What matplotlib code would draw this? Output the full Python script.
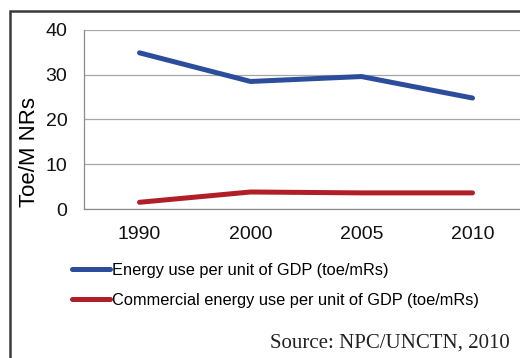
import matplotlib.pyplot as plt
from matplotlib.patches import Rectangle

years = ["1990", "2000", "2005", "2010"]
energy_use = [34.9, 28.5, 29.6, 24.8]
commercial_use = [1.5, 3.8, 3.6, 3.6]
yticks = [0, 10, 20, 30, 40]

BLUE = "#2b4d9c"
RED = "#b01e28"

plt.rcParams["font.family"] = ["Liberation Sans", "DejaVu Sans"]

W, H = 520, 358
fig = plt.figure(figsize=(W / 100, H / 100), dpi=100)

# outer frame, cut off at the right and bottom
fig.add_artist(Rectangle((10 / W, -0.1), 1.2, (H - 11) / H + 0.1, transform=fig.transFigure,
                         fill=False, edgecolor="#3a3a3a", linewidth=1.8))

ax = fig.add_axes([84 / W, 1 - 209 / H, 444 / W, 179 / H])
x = range(len(years))
ax.plot(x, energy_use, color=BLUE, linewidth=3.6, solid_capstyle="round",
        label="Energy use per unit of GDP (toe/mRs)")
ax.plot(x, commercial_use, color=RED, linewidth=3.6, solid_capstyle="round",
        label="Commercial energy use per unit of GDP (toe/mRs)")

ax.set_xlim(-0.5, 3.5)
ax.set_ylim(0, 40)
ax.set_yticks(yticks)
ax.set_xticks(list(x))
ax.set_xticklabels(years)
ax.tick_params(axis="both", length=0, labelsize=14, colors="#111111")
ax.tick_params(axis="y", pad=12)
ax.tick_params(axis="x", pad=12)
ax.grid(axis="y", color="#a6a6a6", linewidth=0.9)
for side in ["top", "right"]:
    ax.spines[side].set_visible(False)
for side in ["left", "bottom"]:
    ax.spines[side].set_color("#8c8c8c")
    ax.spines[side].set_linewidth(0.9)
ax.set_ylabel("Toe/M NRs", fontsize=16)
ax.yaxis.set_label_coords(40 / W, 1 - 152 / H, transform=fig.transFigure)

ax.legend(loc="upper left", bbox_to_anchor=(72 / W, 1 - 263 / H),
          bbox_transform=fig.transFigure, frameon=False, fontsize=11.8,
          borderpad=0, borderaxespad=0,
          handlelength=2.3, handletextpad=0.15, labelspacing=0.9)

fig.text(510 / W, 1 - 343 / H, "Source: NPC/UNCTN, 2010", ha="right", va="center",
         fontsize=15, family=["Liberation Serif", "DejaVu Serif"], color="#222222")

fig.savefig("out.png", dpi=100)
